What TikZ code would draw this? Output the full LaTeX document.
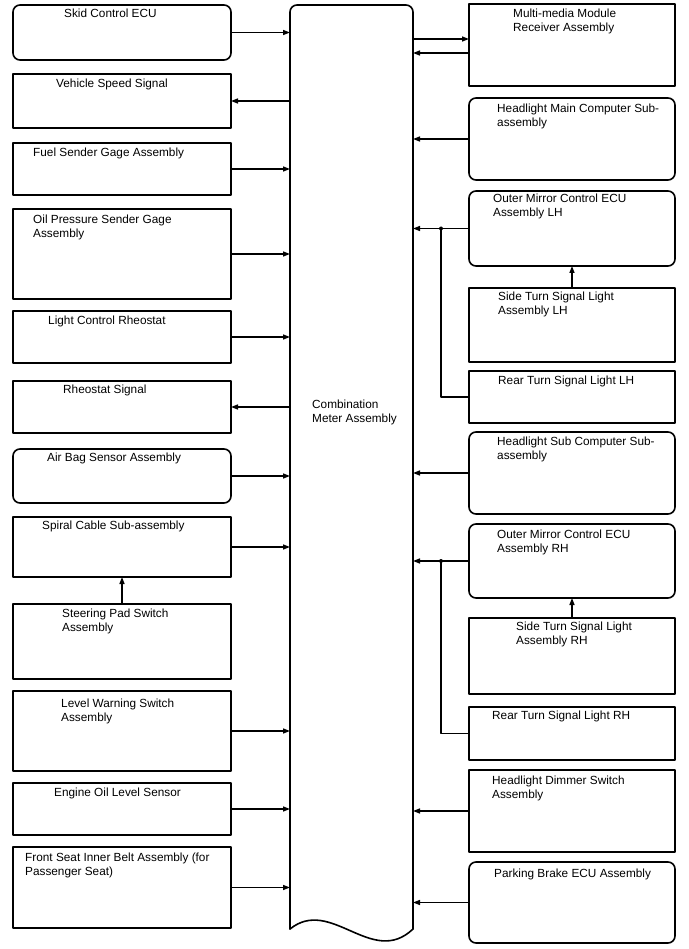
\documentclass[tikz,border=0pt]{standalone}
\usepackage{fontspec}
\setmainfont{Liberation Sans}
\usetikzlibrary{arrows.meta}
\begin{document}
\begin{tikzpicture}[x=1pt,y=-1pt,font=\fontsize{11.8}{14}\selectfont,
  line cap=round,line join=round,>={Triangle[length=7pt,width=5pt]},
  unit/.style={draw,line width=1.6pt,inner sep=0pt,outer sep=0pt,anchor=north west},
  ecu/.style={unit,rounded corners=7pt},
  lbl/.style={anchor=base west,inner sep=0pt,align=left},
  link/.style={line width=1.4pt}]
\useasboundingbox (0,0) rectangle (688,949);
% left column
\node[ecu,minimum width=218pt,minimum height=55pt] (skid) at (13,5) {};
\node[unit,minimum width=218pt,minimum height=54pt] (vss) at (13,74) {};
\node[unit,minimum width=218pt,minimum height=52pt] (fuel) at (13,143) {};
\node[unit,minimum width=218pt,minimum height=90pt] (oilp) at (13,209) {};
\node[unit,minimum width=218pt,minimum height=52pt] (lcr) at (13,311) {};
\node[unit,minimum width=218pt,minimum height=52pt] (rheo) at (13,381) {};
\node[ecu,minimum width=218pt,minimum height=54pt] (airbag) at (13,449) {};
\node[unit,minimum width=218pt,minimum height=60pt] (spiral) at (13,517) {};
\node[unit,minimum width=218pt,minimum height=75pt] (steer) at (13,604) {};
\node[unit,minimum width=218pt,minimum height=80pt] (level) at (13,691) {};
\node[unit,minimum width=218pt,minimum height=52pt] (engoil) at (13,783) {};
\node[unit,minimum width=218pt,minimum height=81pt] (seat) at (13,847) {};
% (multi-line labels sit on their last baseline)
\node[lbl] (skidtxt) at (64,18) {Skid Control ECU};
\node[lbl] (vsstxt) at (56,88) {Vehicle Speed Signal};
\node[lbl] (fueltxt) at (33,157) {Fuel Sender Gage Assembly};
\node[lbl] (oilptxt) at (33,238) {Oil Pressure Sender Gage\\Assembly};
\node[lbl] (lcrtxt) at (48,324) {Light Control Rheostat};
\node[lbl] (rheotxt) at (63,393) {Rheostat Signal};
\node[lbl] (airbagtxt) at (47,461) {Air Bag Sensor Assembly};
\node[lbl] (spiraltxt) at (42,529) {Spiral Cable Sub-assembly};
\node[lbl] (steertxt) at (62,631) {Steering Pad Switch\\Assembly};
\node[lbl] (leveltxt) at (61,721) {Level Warning Switch\\Assembly};
\node[lbl] (engoiltxt) at (54,796) {Engine Oil Level Sensor};
\node[lbl] (seattxt) at (25,875) {Front Seat Inner Belt Assembly (for\\Passenger Seat)};
% combination meter
\node[inner sep=0pt,outer sep=0pt,anchor=north west,minimum width=123pt,minimum height=924pt] (meter) at (290,5) {};
\draw[line width=1.6pt,rounded corners=7pt] (meter.south west) -- (meter.north west) -- (meter.north east) -- (meter.south east);
\draw[line width=1.6pt] (meter.south east) .. controls (372,968) and (331,896) .. (meter.south west);
\node[lbl] (metertxt) at (312,422) {Combination\\Meter Assembly};
% right column
\node[unit,minimum width=206pt,minimum height=82pt] (mm) at (469,4) {};
\node[ecu,minimum width=206pt,minimum height=82pt] (hmain) at (469,98) {};
\node[ecu,minimum width=206pt,minimum height=75pt] (mirlh) at (469,191) {};
\node[unit,minimum width=206pt,minimum height=74pt] (sidelh) at (469,288) {};
\node[unit,minimum width=206pt,minimum height=52pt] (rearlh) at (469,371) {};
\node[ecu,minimum width=206pt,minimum height=82pt] (hsub) at (469,432) {};
\node[ecu,minimum width=206pt,minimum height=74pt] (mirrh) at (469,524) {};
\node[unit,minimum width=206pt,minimum height=76pt] (siderh) at (469,618) {};
\node[unit,minimum width=206pt,minimum height=53pt] (rearrh) at (469,707) {};
\node[unit,minimum width=206pt,minimum height=82pt] (dimmer) at (469,770) {};
\node[ecu,minimum width=206pt,minimum height=81pt] (pbrake) at (469,862) {};
\node[lbl] (mmtxt) at (513,32) {Multi-media Module\\Receiver Assembly};
\node[lbl] (hmaintxt) at (497,127) {Headlight Main Computer Sub-\\assembly};
\node[lbl] (mirlhtxt) at (493,217) {Outer Mirror Control ECU\\Assembly LH};
\node[lbl] (sidelhtxt) at (498,314) {Side Turn Signal Light\\Assembly LH};
\node[lbl] (rearlhtxt) at (498,384) {Rear Turn Signal Light LH};
\node[lbl] (hsubtxt) at (497,459) {Headlight Sub Computer Sub-\\assembly};
\node[lbl] (mirrhtxt) at (497,552) {Outer Mirror Control ECU\\Assembly RH};
\node[lbl] (siderhtxt) at (516,644) {Side Turn Signal Light\\Assembly RH};
\node[lbl] (rearrhtxt) at (492,719) {Rear Turn Signal Light RH};
\node[lbl] (dimmertxt) at (492,798) {Headlight Dimmer Switch\\Assembly};
\node[lbl] (pbraketxt) at (494,877) {Parking Brake ECU Assembly};
% signals on the left
\draw[link,->] (skid.east) -- (skid.east -| meter.west);
\draw[link,<-] (vss.east) -- (vss.east -| meter.west);
\draw[link,->] (fuel.east) -- (fuel.east -| meter.west);
\draw[link,->] (oilp.east) -- (oilp.east -| meter.west);
\draw[link,->] (lcr.east) -- (lcr.east -| meter.west);
\draw[link,<-] (rheo.east) -- (rheo.east -| meter.west);
\draw[link,->] (airbag.east) -- (airbag.east -| meter.west);
\draw[link,->] (spiral.east) -- (spiral.east -| meter.west);
\draw[link,->] (steer.north) -- (spiral.south);
\draw[link,->] (level.east) -- (level.east -| meter.west);
\draw[link,->] (engoil.east) -- (engoil.east -| meter.west);
\draw[link,->] (seat.east) -- (seat.east -| meter.west);
% signals on the right
\coordinate (mmout) at ([yshift=6pt]mm.west);
\coordinate (mmin) at ([yshift=-8pt]mm.west);
\draw[link,->] (mmout -| meter.east) -- (mmout);
\draw[link,->] (mmin) -- (mmin -| meter.east);
\draw[link,->] (hmain.west) -- (hmain.west -| meter.east);
\draw[link,->] (mirlh.west) -- (mirlh.west -| meter.east);
\draw[link,->] (sidelh.north) -- (mirlh.south);
\coordinate (jlh) at (mirlh.west -| 441,0);
\draw[link] (rearlh.west) -| (jlh);
\fill (jlh) circle (2pt);
\draw[link,->] (hsub.west) -- (hsub.west -| meter.east);
\draw[link,->] (mirrh.west) -- (mirrh.west -| meter.east);
\draw[link,->] (siderh.north) -- (mirrh.south);
\coordinate (jrh) at (mirrh.west -| 441,0);
\draw[link] (rearrh.west) -| (jrh);
\fill (jrh) circle (2pt);
\draw[link,->] (dimmer.west) -- (dimmer.west -| meter.east);
\draw[link,->] (pbrake.west) -- (pbrake.west -| meter.east);
\end{tikzpicture}
\end{document}
